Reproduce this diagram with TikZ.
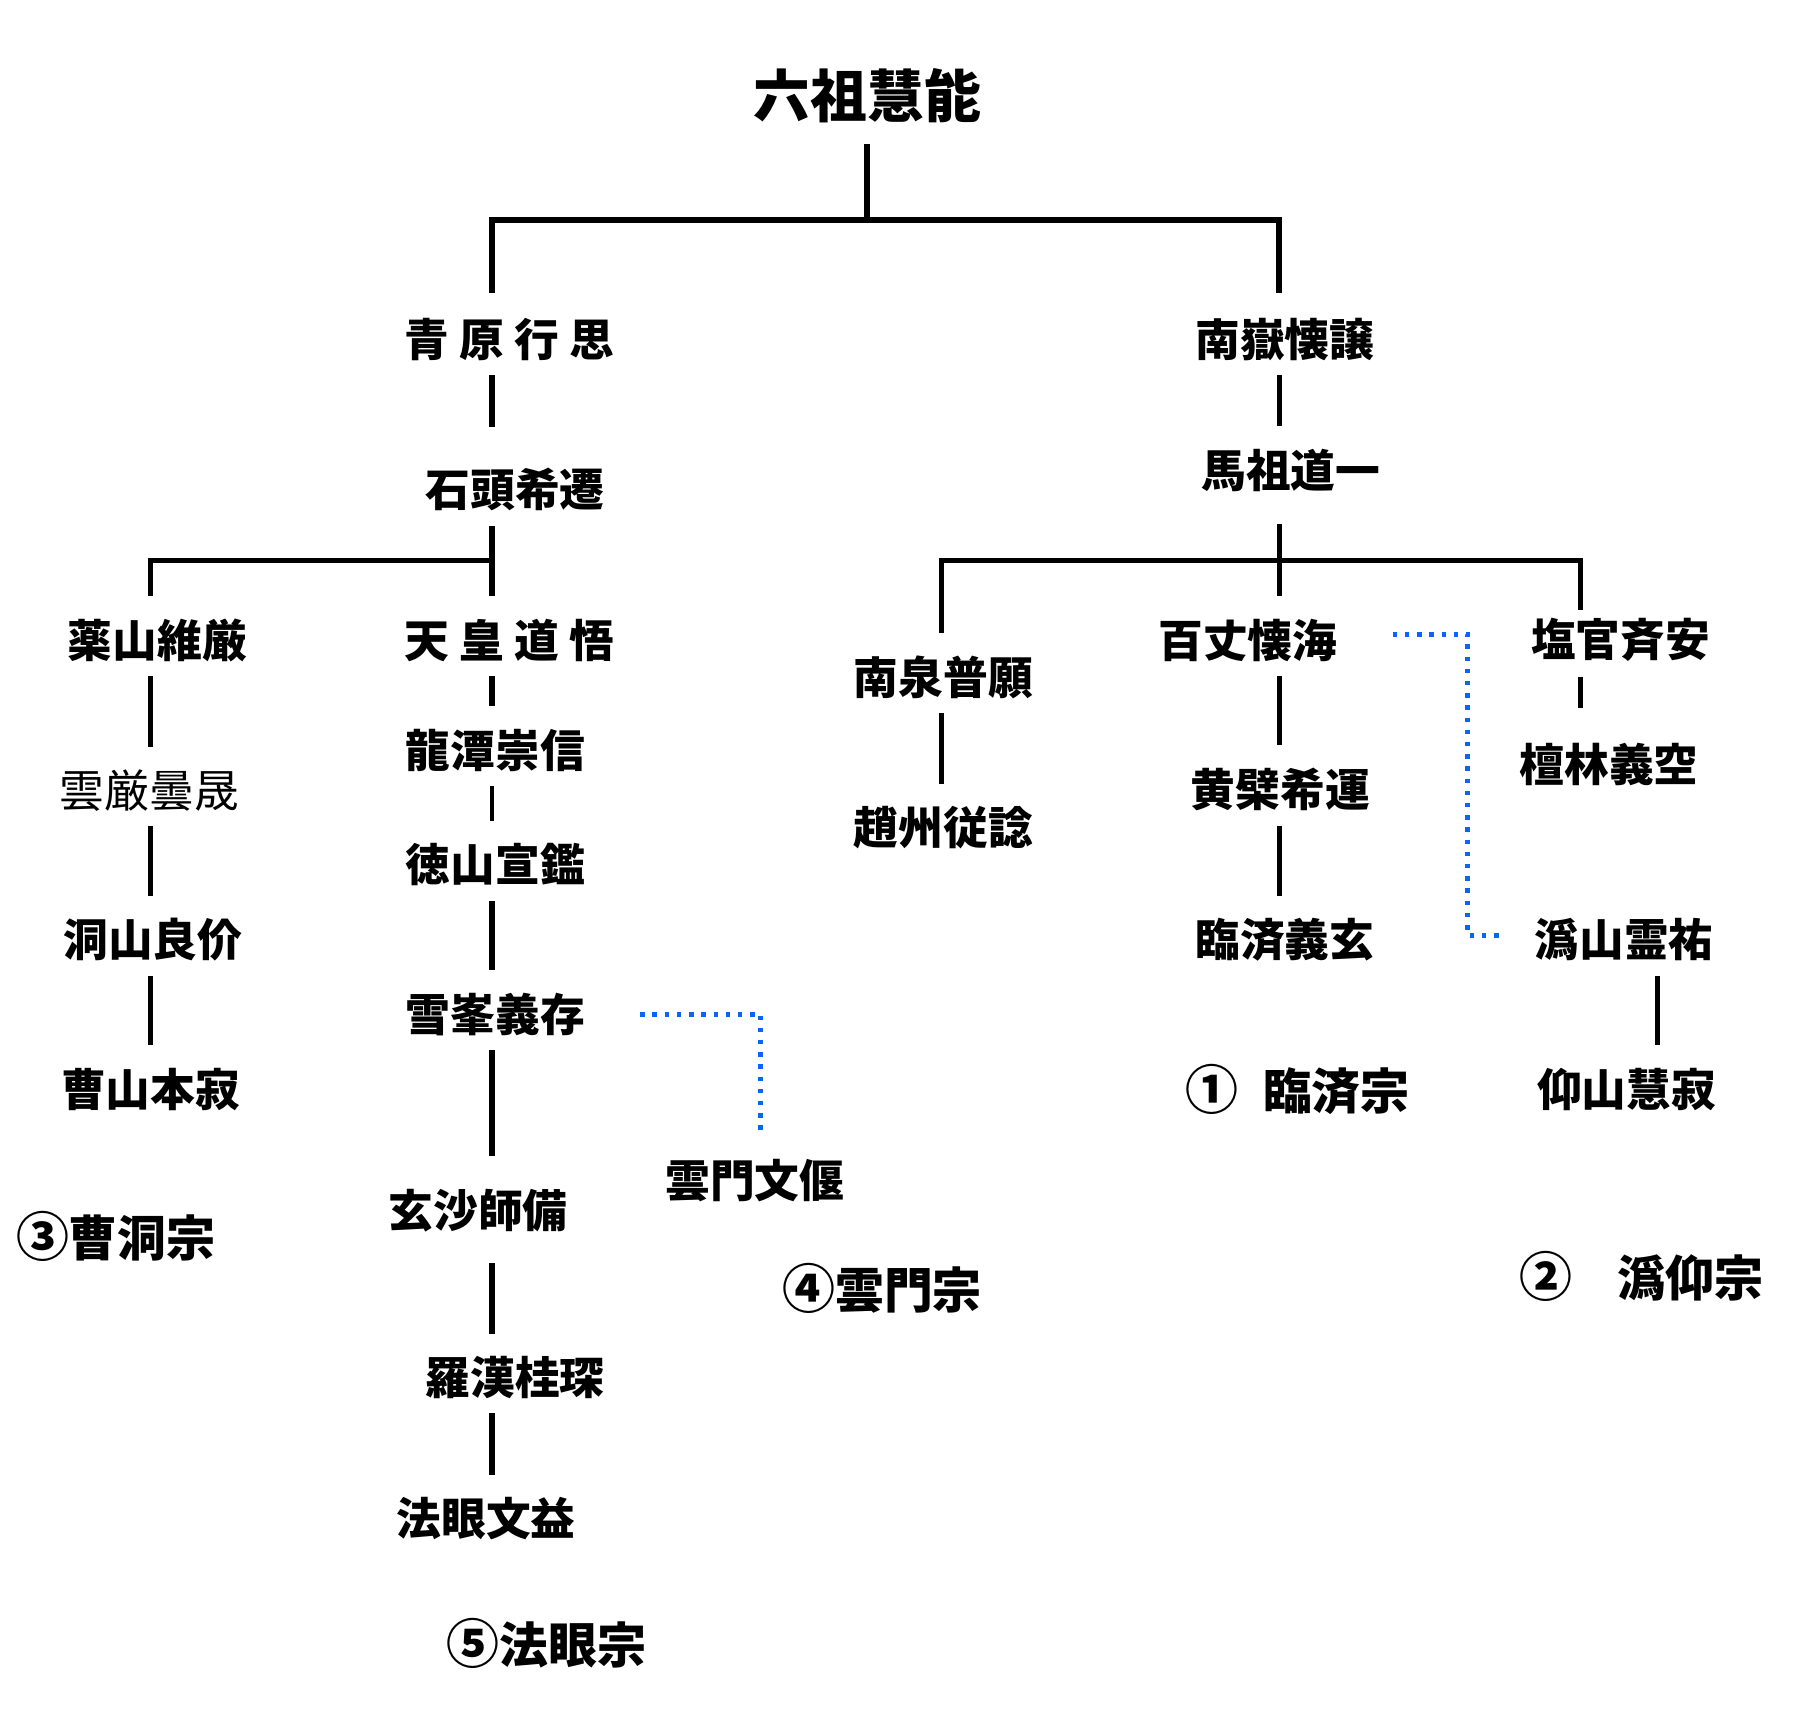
\documentclass[tikz,border=0pt]{standalone}
\usepackage{fontspec}
\setmainfont{Noto Sans CJK JP}
\definecolor{dotblue}{RGB}{10,100,245}
\newcommand{\circnum}[1]{{\fontsize{26}{30}\selectfont #1}}
\tikzset{every node/.append style = {inner sep=0pt, font=\bfseries\fontsize{22}{26}\selectfont}}
\tikzset{school/.style = {font=\bfseries\fontsize{24}{28}\selectfont}}
\tikzset{stem/.style = {line width=2.6pt, shorten <=7pt, shorten >=11pt}}
\tikzset{dots/.style = {draw=dotblue, line width=2.4pt, dash pattern=on 2.2pt off 3.8pt}}

\begin{document}
\begin{tikzpicture}[x=0.02cm, y=-0.02cm]
\useasboundingbox (0,0) rectangle (1567,1483);
% masters
\node (huineng) at (749,83) {\fontsize{28}{32}\selectfont 六祖慧能};
\node (qingyuan) at (440,293) {青 原 行 思};
\node (shitou) at (445,423) {石頭希遷};
\node (yaoshan) at (136,553) {薬山維厳};
\node (yunyan) at (129,683) {\mdseries 雲厳曇晟};
\node (dongshan) at (132,812) {洞山良价};
\node (caoshan) at (130,941) {曹山本寂};
\node (tianhuang) at (440,553) {天 皇 道 悟};
\node (longtan) at (428,648) {龍潭崇信};
\node (deshan) at (428,747) {徳山宣鑑};
\node (xuefeng) at (428,876) {雪峯義存};
\node (xuansha) at (413,1046) {玄沙師備};
\node (luohan) at (445,1190) {羅漢桂琛};
\node (fayan) at (420,1312) {法眼文益};
\node (yunmen) at (652,1020) {雲門文偃};
\node (nanyue) at (1110,293) {南嶽懐譲};
\node (mazu) at (1115,406) {馬祖道一};
\node (nanquan) at (815,585) {南泉普願};
\node (zhaozhou) at (815,715) {趙州従諗};
\node (baizhang) at (1078,553) {百丈懐海};
\node (huangbo) at (1106,682) {黄檗希運};
\node (linji) at (1110,812) {臨済義玄};
\node (yanguan) at (1400,553) {塩官斉安};
\node (danlin) at (1390,660) {檀林義空};
\node (weishan) at (1403,812) {潙山霊祐};
\node (yangshan) at (1405,941) {仰山慧寂};
% schools
\node [school] (caodong) at (100,1068) {\circnum{③}曹洞宗};
\node [school] (fayanzong) at (472,1420) {\circnum{⑤}法眼宗};
\node [school] (yunmenzong) at (762,1113) {\circnum{④}雲門宗};
\node [school] (linjizong) at (1121,941) {\circnum{①}\hspace{12pt}臨済宗};
\node [school] (guiyang) at (1418,1103) {\circnum{②}\hspace{22pt}潙仰宗};
% junctions
\coordinate (top) at (749,190);
\coordinate (jl) at (425,484);
\coordinate (jr) at (1105,484);
\coordinate (cy) at (130,484);
\coordinate (cn) at (813,484);
\coordinate (cs) at (1365,484);
\coordinate (cw) at (1432,0);
\coordinate (bend) at (1268,808);
% top
\draw [stem, line width=3pt, shorten <=10pt, shorten >=0pt] (huineng) -- (top);
\draw [stem, line width=3pt, shorten <=12pt, shorten >=12pt] (qingyuan.north -| jl) |- (top) -| (nanyue.north -| jr);
% qingyuan line
\draw [stem, shorten >=20pt] (qingyuan.south -| jl) -- (shitou.north -| jl);
\draw [stem] (shitou.south -| jl) -- (tianhuang.north -| jl);
\draw [stem, shorten <=11pt, shorten >=0pt] (yaoshan.north -| cy) |- (jl);
\draw [stem] (yaoshan.south -| cy) -- (yunyan.north -| cy);
\draw [stem] (yunyan.south -| cy) -- (dongshan.north -| cy);
\draw [stem] (dongshan.south -| cy) -- (caoshan.north -| cy);
\draw [stem] (tianhuang.south -| jl) -- (longtan.north -| jl);
\draw [stem, line width=1.5pt] (longtan.south -| jl) -- (deshan.north -| jl);
\draw [stem] (deshan.south -| jl) -- (xuefeng.north -| jl);
\draw [stem, shorten >=16pt] (xuefeng.south -| jl) -- (xuansha.north -| jl);
\draw [stem, shorten <=15pt] (xuansha.south -| jl) -- (luohan.north -| jl);
\draw [stem] (luohan.south -| jl) -- (fayan.north -| jl);
\draw [dots, shorten <=27pt, shorten >=13pt] (xuefeng.east) -| ([xshift=3pt]yunmen.north);
% nanyue line
\draw [stem] (nanyue.south -| jr) -- (mazu.north -| jr);
\draw [stem, shorten <=16pt] (mazu.south -| jr) -- (baizhang.north -| jr);
\draw [stem, shorten <=11pt, shorten >=4pt] (nanquan.north -| cn) |- (jr) -| (yanguan.north -| cs);
\draw [stem] (nanquan.south -| cn) -- (zhaozhou.north -| cn);
\draw [stem] (baizhang.south -| jr) -- (huangbo.north -| jr);
\draw [stem] (huangbo.south -| jr) -- (linji.north -| jr);
\draw [stem, shorten >=17pt] (yanguan.south -| cs) -- (danlin.north -| cs);
\draw [stem] (weishan.south -| cw) -- (yangshan.north -| cw);
\draw [dots, shorten <=27pt, shorten >=15pt] ([yshift=3pt]baizhang.east) -| (bend) -- (weishan.west |- bend);
\end{tikzpicture}
\end{document}
